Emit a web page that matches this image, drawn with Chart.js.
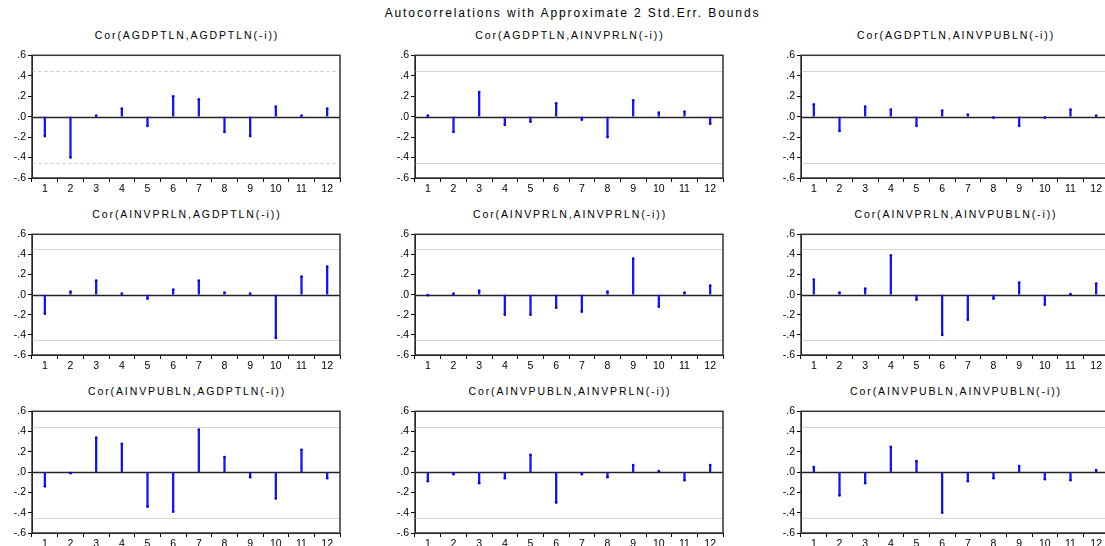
<!DOCTYPE html>
<html>
<head>
<meta charset="utf-8">
<script src="https://cdn.jsdelivr.net/npm/chart.js@4/dist/chart.umd.min.js"></script>
<style>
  html, body { margin: 0; padding: 0; background: #fff; overflow: hidden; }
  body { width: 1105px; height: 546px; position: relative; font-family: "Liberation Sans", Arial, sans-serif; }
  .baslik { position: absolute; top: 6px; left: 20px; width: 1105px; text-align: center; font-size: 12px; color: #000; letter-spacing: 1.9px; }
  .panel-baslik { position: absolute; width: 310px; text-align: center; font-size: 10.5px; color: #000; letter-spacing: 1.9px; }
  canvas { position: absolute; }
</style>
</head>
<body>
<div class="baslik">Autocorrelations with Approximate 2 Std.Err. Bounds</div>
<script>
// gecikmeler ve korelasyonlar
const lags = ["1", "2", "3", "4", "5", "6", "7", "8", "9", "10", "11", "12"];
const bound = 0.45;

const gdpGdp = [-0.19, -0.40, 0.01, 0.08, -0.09, 0.20, 0.17, -0.15, -0.19, 0.10, 0.01, 0.08];
const gdpPr  = [0.01, -0.15, 0.24, -0.08, -0.05, 0.13, -0.03, -0.20, 0.16, 0.04, 0.05, -0.07];
const gdpPub = [0.12, -0.14, 0.10, 0.07, -0.09, 0.06, 0.02, -0.01, -0.09, -0.01, 0.07, 0.01];
const prGdp  = [-0.19, 0.03, 0.14, 0.01, -0.04, 0.05, 0.14, 0.02, 0.01, -0.43, 0.18, 0.28];
const prPr   = [-0.005, 0.01, 0.04, -0.20, -0.20, -0.13, -0.17, 0.03, 0.36, -0.12, 0.02, 0.09];
const prPub  = [0.15, 0.02, 0.06, 0.39, -0.05, -0.40, -0.25, -0.04, 0.12, -0.10, 0.005, 0.11];
const pubGdp = [-0.14, -0.01, 0.34, 0.28, -0.34, -0.39, 0.42, 0.15, -0.05, -0.26, 0.22, -0.06];
const pubPr  = [-0.09, -0.02, -0.11, -0.06, 0.17, -0.30, -0.02, -0.05, 0.07, 0.01, -0.08, 0.07];
const pubPub = [0.05, -0.23, -0.11, 0.25, 0.11, -0.40, -0.09, -0.06, 0.06, -0.07, -0.08, 0.02];

const panelTitles = [
  "Cor(AGDPTLN,AGDPTLN(-i))", "Cor(AGDPTLN,AINVPRLN(-i))", "Cor(AGDPTLN,AINVPUBLN(-i))",
  "Cor(AINVPRLN,AGDPTLN(-i))", "Cor(AINVPRLN,AINVPRLN(-i))", "Cor(AINVPRLN,AINVPUBLN(-i))",
  "Cor(AINVPUBLN,AGDPTLN(-i))", "Cor(AINVPUBLN,AINVPRLN(-i))", "Cor(AINVPUBLN,AINVPUBLN(-i))"
];
const panelData = [gdpGdp, gdpPr, gdpPub, prGdp, prPr, prPub, pubGdp, pubPr, pubPub];

// yerleşim: çizim alanının sol/üst kenarları
const colLeft = [32, 415, 801];
const rowTop = [54, 233, 410];
const rowHeight = [124, 122, 123];
const plotW = 310;
const yAxisW = 30, padTop = 7, xAxisH = 16;

const fmt = v => (v < -1e-9 ? "-" : "") + "." + Math.round(Math.abs(v) * 10);

// çerçeve, sıfır çizgisi ve ±2 std. hata sınırları
const cerceve = {
  id: "cerceve",
  beforeDatasetsDraw(chart) {
    const { ctx, chartArea: a, scales: { y } } = chart;
    ctx.save();
    ctx.strokeStyle = "#d4d4d4";
    ctx.lineWidth = 1;
    if (chart.options.plugins.cerceve.dashed) ctx.setLineDash([4, 2]);
    for (const b of [bound, -bound]) {
      const py = Math.round(y.getPixelForValue(b)) + 0.5;
      ctx.beginPath(); ctx.moveTo(a.left, py); ctx.lineTo(a.right, py); ctx.stroke();
    }
    ctx.setLineDash([]);
    ctx.strokeStyle = "#222";
    ctx.lineWidth = 1.5;
    const z = Math.round(y.getPixelForValue(0)) + 0.5;
    ctx.beginPath(); ctx.moveTo(a.left, z); ctx.lineTo(a.right, z); ctx.stroke();
    ctx.restore();
  },
  afterDraw(chart) {
    const { ctx, chartArea: a } = chart;
    ctx.save();
    ctx.strokeStyle = "#333";
    ctx.lineWidth = 1.5;
    ctx.strokeRect(a.left, a.top, a.right - a.left, a.bottom - a.top);
    ctx.restore();
  }
};

panelData.forEach((veri, i) => {
  const r = Math.floor(i / 3), c = i % 3;
  const h = rowHeight[r];

  const t = document.createElement("div");
  t.className = "panel-baslik";
  t.style.left = colLeft[c] + "px";
  t.style.top = (rowTop[r] - 25) + "px";
  t.textContent = panelTitles[i];
  document.body.appendChild(t);

  const cv = document.createElement("canvas");
  const w = yAxisW + plotW + 2, ht = padTop + h + xAxisH;
  cv.style.left = (colLeft[c] - yAxisW) + "px";
  cv.style.top = (rowTop[r] - padTop) + "px";
  cv.style.width = w + "px";
  cv.style.height = ht + "px";
  cv.width = w; cv.height = ht;
  document.body.appendChild(cv);

  new Chart(cv, {
    data: {
      labels: lags,
      datasets: [
        { type: "bar", data: veri, backgroundColor: "#1010ff", barThickness: 1.6, order: 2 },
        { type: "line", data: veri, showLine: false, pointRadius: 1.3, pointBackgroundColor: "#0000ff", pointBorderWidth: 0, order: 1 }
      ]
    },
    options: {
      responsive: false,
      animation: false,
      layout: { padding: { top: padTop, right: 2, left: 0, bottom: 0 } },
      plugins: { legend: { display: false }, tooltip: { enabled: false }, cerceve: { dashed: i === 0 } },
      scales: {
        x: {
          offset: true,
          grid: { offset: true, drawOnChartArea: false, tickLength: 4, color: "#000" },
          border: { color: "#000" },
          ticks: { color: "#000", font: { family: "Liberation Sans", size: 10.5 }, padding: 1, maxRotation: 0, autoSkip: false },
          afterFit: s => { s.height = xAxisH; }
        },
        y: {
          min: -0.6, max: 0.6,
          grid: { drawOnChartArea: false, tickLength: 4, color: "#000" },
          border: { color: "#000" },
          ticks: { stepSize: 0.2, color: "#000", font: { family: "Liberation Sans", size: 10.5 }, padding: 2, callback: fmt },
          afterFit: s => { s.width = yAxisW; }
        }
      }
    },
    plugins: [cerceve]
  });
});
</script>
</body>
</html>
